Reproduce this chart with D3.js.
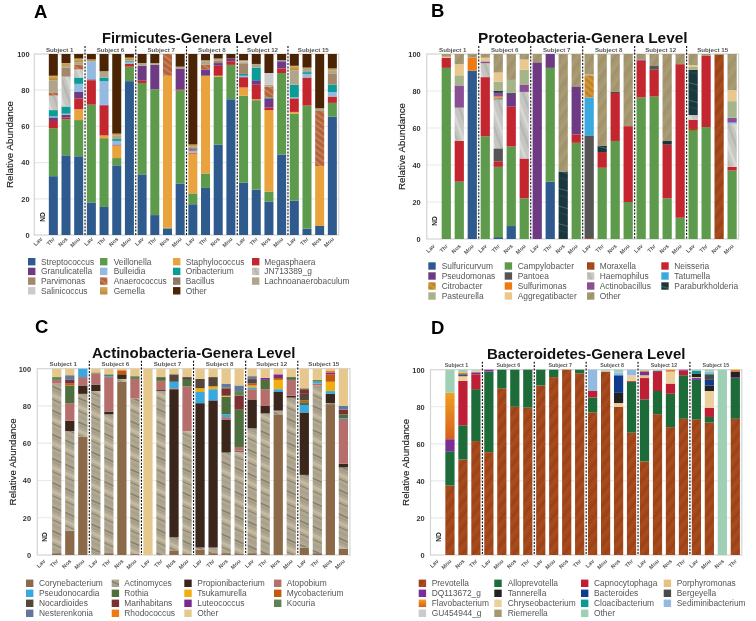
<!DOCTYPE html>
<html>
  <head>
    <title>Genera level relative abundance</title>
    <style>
      body { margin: 0; background: #fff; }
      svg { display: block; filter: blur(0.35px); }
      text { font-family: "Liberation Sans", Arial, sans-serif; }
    </style>
  </head>
  <body>
    <script src="https://d3js.org/d3.v7.min.js"></script>
    <script>
      // Shared categories
      const subjects = ["Subject 1", "Subject 6", "Subject 7", "Subject 8", "Subject 12", "Subject 15"];
      const sitesABC = ["Lav", "Thr", "Nos", "Mou"];
      const sitesD = ["Lav", "Mou", "Nos", "Thr"];

      // A - legend in reading order, then the order the bars stack in
      const firmicutesLegend = ["Streptococcus", "Veillonella", "Staphylococcus", "Megasphaera", "Granulicatella", "Bulleidia", "Oribacterium", "JN713389_g", "Parvimonas", "Anaerococcus", "Bacillus", "Lachnoanaerobaculum", "Salinicoccus", "Gemella", "Other"];
      const firmicutesColors = ["#2f5a8e", "#5e9a4b", "#e9a23c", "#c3262f", "#6f3a84", "#95badf", "#0c9c97", "url(#tex-grey)", "#a4866a", "url(#tex-rust)", "url(#tex-bacillus)", "#afa58a", "#cbcbcb", "url(#grad-gold)", "#4b2406"];
      const firmicutesStack = ["Streptococcus", "Veillonella", "Staphylococcus", "Megasphaera", "Granulicatella", "Bulleidia", "Oribacterium", "JN713389_g", "Anaerococcus", "Bacillus", "Parvimonas", "Lachnoanaerobaculum", "Salinicoccus", "Gemella", "Other"];
      const firmicutesValues = [
        [0, 0, 0, 0, 0, 0, 0, 0, 0, 0, 0, 0, 0, 0, 0],
        [32.5, 26.5, 0, 4, 2, .5, 3.5, 8, 1.5, 0, 0, 7, 0, 2.5, 12],
        [44, 20, 0, 1, 1.5, .5, 4, 16.5, 0, 0, 5, 1, 0, 1.5, 5],
        [43.5, 20, 6, 6, 3.5, 4.5, 3.5, 4.5, 2.5, 0, 0, 1.5, 0, 2, 2.5],
        [18, 54, 0, 13.5, .5, 10, 0, 0, 0, 0, 0, 0, 0, 1, 3],
        [15.5, 38, 1.5, 16.5, .5, 13, 2, 0, 0, 0, 0, 3.5, 0, 0, 9.5],
        [38.5, 4, 7, 0, .5, 2, 1, 0, 0, 0, 0, 2, 0, 1, 44],
        [85, 8, 0, 1.5, 0, 1, .5, 0, 0, 0, 0, .5, 0, 1.5, 2],
        [33.5, 50.5, 0, 1.5, 8, 0, 0, 0, 0, 0, 0, 1.5, 0, 0, 5],
        [11, 69.5, 0, 0, 13.5, 0, 0, 0, 0, 0, 0, 1, 0, 0, 5],
        [3.5, .5, 84, 0, 0, 0, 0, 0, 12, 0, 0, 0, 0, 0, 0],
        [28.5, 51.5, 0, .5, 11.5, 0, 0, 0, 0, 0, 0, 1, 0, 0, 7],
        [17, 6, 22, .5, 0, 1, 0, 0, 0, 1.5, 0, 1, 0, 1, 50],
        [26, 8, 54, 0, 3.5, 0, 0, 0, 2.5, 0, 0, 2, 0, .5, 3.5],
        [50, 37.5, .5, 5.5, 1.5, 0, 0, 0, 0, 0, 1.5, 1, 0, 0, 2.5],
        [75, 19, 0, 2, 1.5, 0, 0, 0, 0, 0, 0, 0, 0, 0, 2.5],
        [29, 48, 4.5, 5.5, .5, .5, 1, 0, 0, 0, 5.5, 1, .5, .5, 3.5],
        [25, 49.5, .5, 8, 2.5, 0, 7, 0, 0, 0, 0, 2, 0, 0, 5.5],
        [18.5, 5.5, 45, 1.5, 5, 0, .5, 0, 6, 0, 0, 1, 6.5, 0, 10.5],
        [44.5, 45, 0, 2.5, 4, .5, 0, 0, 0, 0, 0, 0, 0, 0, 3.5],
        [19, 48, 1, 7.5, 0, .5, 7, 0, 0, 0, 0, 8, 0, 2.5, 6.5],
        [3.5, 68, 0, 15.5, 0, 2, 1, 0, 0, 0, 0, 2.5, 0, 0, 7.5],
        [5, 0, 33, 0, 0, 0, 0, 0, 30.5, 0, 0, 1.5, 0, 0, 30],
        [65.5, 7.5, 0, 3.5, 0, 2.5, 4, 0, 0, 0, 6, 2, 0, 1, 8]
      ];

      // B
      const proteoLegend = ["Sulfuricurvum", "Campylobacter", "Moraxella", "Neisseria", "Pseudomonas", "Pantoea", "Haemophilus", "Tatumella", "Citrobacter", "Sulfurimonas", "Actinobacillus", "Paraburkholderia", "Pasteurella", "Aggregatibacter", "Other"];
      const proteoColors = ["#2f5a8e", "#5e9a4b", "url(#tex-prevotella)", "#c3262f", "#6f3a84", "#555555", "url(#tex-grey)", "#3aa9e0", "url(#tex-citro)", "#ee7a14", "#8a4f93", "url(#tex-teal)", "#a6b48a", "#e8c88e", "url(#tex-khaki)"];
      const proteoStack = proteoLegend;
      const proteoValues = [
        [0, 0, 0, 0, 0, 0, 0, 0, 0, 0, 0, 0, 0, 0, 0],
        [0, 92.5, 0, 5.5, 0, 0, 0, 0, 0, 0, 0, 0, 0, .5, 1.5],
        [0, 31, 0, 22, 0, 0, 18, 0, 0, 0, 12, 0, 5.5, 6, 5.5],
        [91, 0, 0, 0, 0, 0, 0, 0, 0, 7, 0, 0, 0, 0, 2],
        [0, 55.5, 0, 32, 0, 0, 7.5, 0, 0, 0, 1, 0, 0, 2, 2],
        [1, 38, 0, 3, 0, 7, 26, .5, 1, .5, 2, 1, 5, 5, 10],
        [7, 43, 0, 21.5, 7, 0, 0, 0, 0, 0, 0, .5, 7, 0, 14],
        [0, 22, 0, 21.5, 0, 0, 36, 0, 0, 0, 4, 0, 8, 5.5, 3],
        [0, 0, 0, 0, 95.5, 0, 0, 0, 0, 0, 0, 0, 0, 0, 4.5],
        [31, 61.5, 0, 0, 7.5, 0, 0, 0, 0, 0, 0, 0, 0, 0, 0],
        [0, 0, 0, 0, 0, 0, 0, 0, 0, 0, 0, 36.5, 0, 0, 63.5],
        [0, 52, 0, 4.5, 26, 0, 0, 0, 0, 0, 0, 0, 0, 0, 17.5],
        [0, 0, .5, 0, 0, 55.5, 0, 20.5, 12, 0, 0, 0, .5, 0, 11],
        [0, 38.5, 0, 8.5, 0, 0, 0, 0, 0, 0, 0, 3.5, 0, 0, 49.5],
        [0, 53, 0, 26, 0, 0, 0, 0, 0, 0, 0, .5, 0, 0, 20.5],
        [0, 20, 0, 41, 0, 0, 0, 0, 0, 0, 0, 0, 0, 0, 39],
        [0, 76.5, 0, 20, .5, 0, 0, 0, 0, 0, 0, 0, 0, 0, 3],
        [0, 77, 0, 14.5, 0, 2, 0, 0, 0, 0, 0, 0, 0, 0, 6.5],
        [0, 22, 0, 29, 0, 0, 0, 0, 0, 0, 0, 2, 0, 0, 47],
        [0, 11.5, 0, 83, 0, 0, 0, 0, 0, 0, 0, 0, 0, 0, 5.5],
        [0, 58.5, 1.5, 4.5, 0, 0, 2.5, 0, 0, 0, 0, 24.5, 1.5, 1, 6],
        [0, 60.5, 0, 38.5, 0, 0, 0, 0, 0, 0, 0, 0, 0, 0, 1],
        [0, 0, 99.5, 0, 0, 0, 0, 0, 0, 0, 0, 0, 0, 0, .5],
        [0, 37, 0, 2, 0, 0, 23.5, .5, 0, 0, 2.5, 0, 9, 6, 19.5]
      ];

      // C
      const actinoLegend = ["Corynebacterium", "Actinomyces", "Propionibacterium", "Atopobium", "Pseudonocardia", "Rothia", "Tsukamurella", "Mycobacterium", "Nocardioides", "Marihabitans", "Luteococcus", "Kocuria", "Nesterenkonia", "Rhodococcus", "Other"];
      const actinoColors = ["#8b6a4a", "url(#tex-actino)", "#3a261a", "#b56e6b", "#38a8e0", "#4d6f3d", "#f2ad0f", "#c05a0c", "#54463b", "#7c3030", "#7d2a8c", "#5f8250", "#62779b", "#ee7a14", "#e6c88d"];
      const actinoStack = ["Corynebacterium", "Actinomyces", "Propionibacterium", "Atopobium", "Pseudonocardia", "Rothia", "Tsukamurella", "Mycobacterium", "Nocardioides", "Marihabitans", "Kocuria", "Nesterenkonia", "Luteococcus", "Rhodococcus", "Other"];
      const actinoValues = [
        [0, 0, 0, 0, 0, 0, 0, 0, 0, 0, 0, 0, 0, 0, 0],
        [1, 91, 0, 2, 0, 0, 0, 0, 0, 0, 1.5, 0, 0, 0, 4.5],
        [13, 53.5, 5.5, 9.5, 0, 9.5, 0, 1, 0, 2, 0, 2.5, 0, 0, 3.5],
        [63.5, 23, 4.5, 4.5, 4.5, 0, 0, 0, 0, 0, 0, 0, 0, 0, 0],
        [0, 88, 3.5, 6, 0, 0, 0, 0, 0, 0, .5, 0, 0, 0, 2],
        [1, 74.5, 1.5, 18.5, .5, 0, 0, 0, 0, 0, 1, 0, 0, 0, 3],
        [93, 1.5, 2.5, 0, 0, 0, 0, 2, 0, 0, 0, 0, 0, .5, .5],
        [.5, 83.5, 0, 10.5, 0, 0, 0, 0, 0, 0, 1.5, 0, 0, 0, 4],
        [0, 0, 0, 0, 0, 0, 0, 0, 0, 0, 0, 0, 0, 0, 100],
        [0, 88, .5, 5, 0, 2, 0, 0, 0, 0, 0, 0, 0, 0, 4.5],
        [2.5, 7, 79.5, .5, 3.5, 0, 0, 0, 4, 0, 0, 0, 0, 0, 3],
        [.5, 66, 0, 24, 0, 3.5, 0, 0, 1.5, 0, 0, 0, 0, 0, 4.5],
        [3, 1, 77.5, 0, 6, 0, 2, 0, 5, 0, 0, 0, 0, 0, 5.5],
        [1, 3, 79, 0, 6, 0, 1.5, 0, 5, 0, 0, 0, 0, 0, 4.5],
        [1, 54, 17.5, 1.5, 1.5, 9.5, .5, 0, 0, 4, .5, 2, 0, 0, 8],
        [.5, 55, .5, 2, 0, 20, 0, 0, 0, 7.5, 2.5, 3, 0, 0, 9],
        [1, 67, 15.5, 5.5, 1, 0, 1, 1, 2, .5, 0, 1.5, 0, 0, 4],
        [.5, 75.5, 4, 9, 0, 5, 0, 0, 0, 0, 0, 0, 1, 0, 5],
        [75.5, 2, 10, 0, 1.5, 0, 5, 1, 0, 0, 0, 0, 2, 0, 3],
        [0, 84.5, 1, 8.5, 0, 1.5, 0, 0, 0, 0, 0, 0, 0, 0, 4.5],
        [4, 39, 33.5, 0, 4, 1.5, 0, 1, 3.5, 2.5, .5, 0, 0, 0, 10.5],
        [1, 90, 0, 1, 1, 0, 0, 0, 0, 0, 1, 0, 0, 0, 6],
        [81, .5, 5, 0, 1.5, 0, 5, 4, 0, 0, 0, 0, 1, 1, 1],
        [3.5, 43.5, 2, 24, .5, 2, 0, 0, 0, 2.5, 0, 2, 0, 0, 20]
      ];

      // D
      const bacteroLegend = ["Prevotella", "Alloprevotella", "Capnocytophaga", "Porphyromonas", "DQ113672_g", "Tannerella", "Bacteroides", "Bergeyella", "Flavobacterium", "Chryseobacterium", "Cloacibacterium", "Sediminibacterium", "GU454944_g", "Riemerella", "Other"];
      const bacteroColors = ["url(#tex-prevotella)", "#1d6b38", "#bf1f35", "#e5c283", "#7b2f96", "#222222", "#0f3c8c", "#4a4a4a", "url(#grad-flavo)", "#ecd09c", "#0a9a94", "#95badf", "#cbcbcb", "#a5976f", "#9fcfb4"];
      const bacteroStack = ["Prevotella", "Alloprevotella", "Capnocytophaga", "Porphyromonas", "DQ113672_g", "Chryseobacterium", "Tannerella", "Riemerella", "Bacteroides", "Bergeyella", "Flavobacterium", "Cloacibacterium", "Sediminibacterium", "GU454944_g", "Other"];
      const bacteroValues = [
        [0, 0, 0, 0, 0, 0, 0, 0, 0, 0, 0, 0, 0, 0, 0],
        [37.5, 18.5, 0, 0, 6.5, 0, 0, 0, 0, 0, 25, 0, 0, 0, 12.5],
        [51.5, 18.5, 24, 0, 0, 2.5, .5, 0, .5, 0, 1, 0, 0, 0, 1.5],
        [61.5, 28, 8, 0, 1, 0, 0, 0, 0, 0, .5, 0, 0, .5, .5],
        [55.5, 43.5, 0, 0, 1, 0, 0, 0, 0, 0, 0, 0, 0, 0, 0],
        [90, 10, 0, 0, 0, 0, 0, 0, 0, 0, 0, 0, 0, 0, 0],
        [80, 20, 0, 0, 0, 0, 0, 0, 0, 0, 0, 0, 0, 0, 0],
        [79.5, 20.5, 0, 0, 0, 0, 0, 0, 0, 0, 0, 0, 0, 0, 0],
        [91.5, 8.5, 0, 0, 0, 0, 0, 0, 0, 0, 0, 0, 0, 0, 0],
        [96, 4, 0, 0, 0, 0, 0, 0, 0, 0, 0, 0, 0, 0, 0],
        [100, 0, 0, 0, 0, 0, 0, 0, 0, 0, 0, 0, 0, 0, 0],
        [98, 2, 0, 0, 0, 0, 0, 0, 0, 0, 0, 0, 0, 0, 0],
        [77, 8, 3.5, 0, 0, 0, 0, 0, 0, 0, 0, 0, 11.5, 0, 0],
        [99, 0, 0, 0, 0, 0, 0, 0, 0, 0, 0, 0, 0, .5, .5],
        [80, 0, 0, 0, 0, 2, 5.5, 0, 9.5, 0, 0, 0, 1.5, 0, 1.5],
        [66, 27.5, .5, 0, 0, 3, 0, 0, 0, 0, 0, 0, 3, 0, 0],
        [50.5, 33.5, 11.5, 1.5, 2, 0, 0, 0, 0, 0, .5, 0, 0, 0, .5],
        [76, 12.5, 10.5, 0, 0, 0, .5, 0, 0, 0, 0, 0, 0, .5, 0],
        [69, 18, 5.5, 0, 0, 6.5, 0, 0, 0, 0, 1, 0, 0, 0, 0],
        [73.5, 23.5, 2.5, 0, .5, 0, 0, 0, 0, 0, 0, 0, 0, 0, 0],
        [73, 21.5, 0, 0, 1, .5, 2, 0, 0, 0, 0, 1.5, 0, 0, .5],
        [71.5, 3, 5, 0, 0, 9, 3, 0, 3, 3, 0, .5, 1, 0, 1],
        [0, 0, 0, 0, 0, 0, 0, 0, 0, 0, 0, 0, 0, 0, 100],
        [73.5, 22, 0, 0, .5, 0, 3, 0, 0, 0, 1, 0, 0, 0, 0]
      ];

      const yTicks = [0, 20, 40, 60, 80, 100];

      // Panel layout, kept apart from the values
      const panels = [
        { letter: "A", letterX: 34, letterY: 18, title: "Firmicutes-Genera Level", titleX: 102, titleY: 43, titleSize: 14.6,
          legend: firmicutesLegend, colors: firmicutesColors, stack: firmicutesStack, values: firmicutesValues, sites: sitesABC,
          left: 34.3, right: 338.7, top: 54, bottom: 235, tickX: 29.5, yTitleX: 13, subjectY: 52, subjectSize: 6.2, xOffset: 3, ndX: 42.5, ndY: 217,
          swatchX: [28, 100, 173, 252], textX: [41, 113.7, 185.7, 264.3], rowY: 261.7, rowStep: 9.7 },
        { letter: "B", letterX: 431, letterY: 17, title: "Proteobacteria-Genera Level", titleX: 478, titleY: 43, titleSize: 15.4,
          legend: proteoLegend, colors: proteoColors, stack: proteoStack, values: proteoValues, sites: sitesABC,
          left: 426.8, right: 738.6, top: 54, bottom: 239, tickX: 420.7, yTitleX: 405, subjectY: 52, subjectSize: 6.2, xOffset: 6, ndX: 434.7, ndY: 221,
          swatchX: [428.3, 504.7, 587, 661.3], textX: [441.7, 517.7, 599.7, 674.3], rowY: 266, rowStep: 10 },
        { letter: "C", letterX: 35, letterY: 333, title: "Actinobacteria-Genera Level", titleX: 92, titleY: 358, titleSize: 15,
          legend: actinoLegend, colors: actinoColors, stack: actinoStack, values: actinoValues, sites: sitesABC,
          left: 37.2, right: 349.9, top: 368.7, bottom: 555, tickX: 31, yTitleX: 15.5, subjectY: 366, subjectSize: 6.2, xOffset: 5, ndX: 45, ndY: 537,
          swatchX: [26, 111.7, 184.3, 274], textX: [39, 124.3, 197.3, 286.7], rowY: 583.3, rowStep: 10 },
        { letter: "D", letterX: 431, letterY: 334, title: "Bacteroidetes-Genera Level", titleX: 487, titleY: 359, titleSize: 15,
          legend: bacteroLegend, colors: bacteroColors, stack: bacteroStack, values: bacteroValues, sites: sitesD,
          left: 430.5, right: 741.8, top: 369.7, bottom: 555, tickX: 424.7, yTitleX: 409, subjectY: 367, subjectSize: 5.3, xOffset: 5, ndX: 439, ndY: 537,
          swatchX: [418.7, 494.3, 581, 663.7], textX: [431.7, 507.7, 594, 676.7], rowY: 583.3, rowStep: 10 }
      ];

      const svg = d3.select("body").append("svg")
        .attr("width", 756)
        .attr("height", 621);

      // Soft diagonal textures standing in for the photo-like fills
      const textures = [
        { id: "tex-actino", base: "#b2a88f", size: 22, angle: 24, stripes: [[1, 1.4, "#7d786b"], [4, 1.2, "#9b978b"], [8, 3, "#c4baa2"], [13, 1, "#85806f"], [17, 2.5, "#a5a08f"]] },
        { id: "tex-khaki", base: "#a5976f", size: 9, angle: -55, stripes: [[1, 1.5, "#ac9f79"], [5, 1.5, "#9d8f68"]] },
        { id: "tex-prevotella", base: "#a4481c", size: 8, angle: -52, stripes: [[1, 1.5, "#963f17"], [5, 1, "#ad5020"]] },
        { id: "tex-grey", base: "#c6c6c2", size: 13, angle: 70, stripes: [[1, 3, "#d6d6d2"], [7, 2.5, "#b6b6b2"]] },
        { id: "tex-rust", base: "#b9683f", size: 5, angle: 35, stripes: [[1, 1.2, "#c88a68"], [3.4, .8, "#a85a34"]] },
        { id: "tex-bacillus", base: "#8f7262", size: 5, angle: 30, stripes: [[1, 1.2, "#9d8272"]] },
        { id: "tex-citro", base: "#c98a2e", size: 5, angle: 40, stripes: [[1, 1.5, "#d69a38"], [3.5, 1, "#b87a24"]] },
        { id: "tex-teal", base: "#1a373e", size: 17, angle: 15, stripes: [[3, .7, "#557a80"], [9, 1.5, "#234349"]] }
      ];
      const gradients = [
        { id: "grad-gold", stops: ["#d8ad5a", "#b98a3c"] },
        { id: "grad-flavo", stops: ["#f0a020", "#d7601c"] }
      ];

      const defs = svg.append("defs");
      textures.forEach(t => {
        const pattern = defs.append("pattern")
          .attr("id", t.id)
          .attr("patternUnits", "userSpaceOnUse")
          .attr("width", t.size)
          .attr("height", t.size)
          .attr("patternTransform", `rotate(${t.angle})`);
        pattern.append("rect").attr("width", t.size).attr("height", t.size).attr("fill", t.base);
        t.stripes.forEach(s => {
          pattern.append("rect").attr("y", s[0]).attr("width", t.size).attr("height", s[1]).attr("fill", s[2]);
        });
      });
      gradients.forEach(g => {
        const grad = defs.append("linearGradient").attr("id", g.id).attr("x1", 0).attr("x2", 0).attr("y1", 0).attr("y2", 1);
        grad.append("stop").attr("offset", "0%").attr("stop-color", g.stops[0]);
        grad.append("stop").attr("offset", "100%").attr("stop-color", g.stops[1]);
      });

      function drawPanel(p) {
        const g = svg.append("g");
        const labels = d3.range(24);
        const x = d3.scaleBand().domain(labels).range([p.left, p.right]).paddingInner(0.29).paddingOuter(0.145);
        const y = d3.scaleLinear().domain([0, 100]).range([p.bottom, p.top]);
        const color = d3.scaleOrdinal().domain(p.legend).range(p.colors);

        // Panel letter and title
        g.append("text").attr("x", p.letterX).attr("y", p.letterY)
          .attr("font-size", 18.5).attr("font-weight", "bold").attr("fill", "#000").text(p.letter);
        g.append("text").attr("x", p.titleX).attr("y", p.titleY)
          .attr("font-size", p.titleSize).attr("font-weight", "bold").attr("fill", "#111").text(p.title);

        // Grid lines and frame
        g.append("g").selectAll("line").data(yTicks.slice(1, -1)).join("line")
          .attr("x1", p.left).attr("x2", p.right)
          .attr("y1", d => y(d)).attr("y2", d => y(d))
          .attr("stroke", "#e9e9e9").attr("stroke-width", 1.2);
        g.append("rect").attr("x", p.left).attr("y", p.top)
          .attr("width", p.right - p.left).attr("height", p.bottom - p.top)
          .attr("fill", "none").attr("stroke", "#d4d4d4").attr("stroke-width", 1.2);

        // Stacked bars
        const stacked = d3.stack().keys(d3.range(p.stack.length)).value((row, k) => row[k])(p.values);
        g.append("g").selectAll("g").data(stacked).join("g")
          .attr("fill", (s, i) => color(p.stack[i]))
          .selectAll("rect").data(s => s.map((v, i) => ({ v, i })).filter(d => d.v[1] > d.v[0])).join("rect")
          .attr("x", d => x(d.i))
          .attr("width", x.bandwidth())
          .attr("y", d => y(d.v[1]))
          .attr("height", d => y(d.v[0]) - y(d.v[1]));

        // Dotted dividers between subjects
        const step = x.step();
        g.append("g").selectAll("line").data(d3.range(1, subjects.length)).join("line")
          .attr("x1", d => p.left + d * 4 * step).attr("x2", d => p.left + d * 4 * step)
          .attr("y1", p.top - 8).attr("y2", p.bottom)
          .attr("stroke", "#111").attr("stroke-width", 1.1).attr("stroke-dasharray", "2,1.4");

        // Subject labels
        g.append("g").selectAll("text").data(subjects).join("text")
          .attr("x", (d, i) => p.left + (i * 4 + 2) * step)
          .attr("y", p.subjectY)
          .attr("text-anchor", "middle").attr("font-size", p.subjectSize).attr("font-weight", "bold")
          .attr("fill", "#555").text(d => d);

        // Y axis
        const yAxis = g.append("g").attr("transform", `translate(${p.tickX},0)`)
          .call(d3.axisLeft(y).tickValues(yTicks).tickSize(0).tickPadding(0));
        yAxis.select(".domain").remove();
        yAxis.selectAll("text").attr("font-size", 7.4).attr("font-weight", "bold").attr("fill", "#333")
          .style("font-family", '"Liberation Sans", Arial, sans-serif');

        // X axis, site names repeat for each subject
        const xAxis = g.append("g").attr("transform", `translate(0,${p.bottom})`)
          .call(d3.axisBottom(x).tickSize(0).tickFormat(i => p.sites[i % 4]));
        xAxis.select(".domain").remove();
        xAxis.selectAll("text")
          .attr("font-size", 5.6).attr("font-weight", "bold").attr("fill", "#555")
          .attr("text-anchor", "end").attr("dy", 0).attr("y", 0)
          .style("font-family", '"Liberation Sans", Arial, sans-serif')
          .attr("transform", `translate(2,${p.xOffset + 1.5}) rotate(-45)`);

        // Y title and the empty bar note
        g.append("text")
          .attr("transform", `translate(${p.yTitleX},${(p.top + p.bottom) / 2}) rotate(-90)`)
          .attr("text-anchor", "middle").attr("font-size", 9.8).attr("fill", "#222").attr("stroke", "#222").attr("stroke-width", 0.15).text("Relative Abundance");
        g.append("text")
          .attr("transform", `translate(${p.ndX + 2.2},${p.ndY}) rotate(-90)`)
          .attr("text-anchor", "middle").attr("font-size", 6.5).attr("font-weight", "bold").attr("fill", "#222").text("ND");

        // Legend, four to a row
        const items = g.append("g").selectAll("g").data(p.legend).join("g");
        items.append("rect")
          .attr("x", (d, i) => p.swatchX[i % 4])
          .attr("y", (d, i) => p.rowY + Math.floor(i / 4) * p.rowStep - 3.7)
          .attr("width", 7.4).attr("height", 7.4)
          .attr("fill", d => color(d));
        items.append("text")
          .attr("x", (d, i) => p.textX[i % 4])
          .attr("y", (d, i) => p.rowY + Math.floor(i / 4) * p.rowStep + 3)
          .attr("font-size", 8.4).attr("fill", "#555").text(d => d);
      }

      panels.forEach(drawPanel);
    </script>
  </body>
</html>
